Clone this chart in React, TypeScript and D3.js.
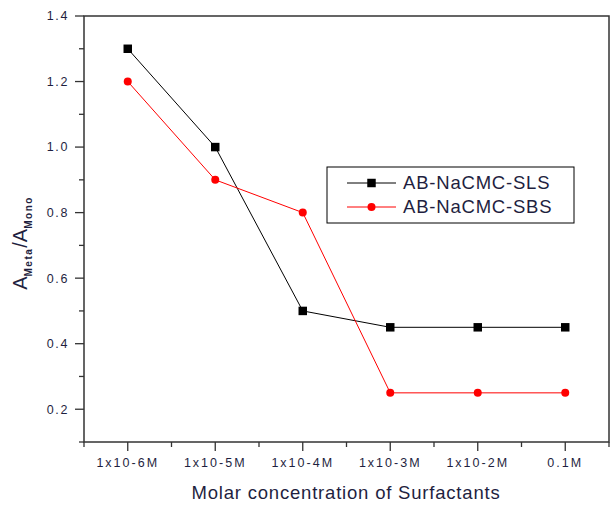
import React from "react";
import * as d3 from "d3";

const categories = ["1x10-6M", "1x10-5M", "1x10-4M", "1x10-3M", "1x10-2M", "0.1M"];
const slsValues = [1.3, 1.0, 0.5, 0.45, 0.45, 0.45];
const sbsValues = [1.2, 0.9, 0.8, 0.25, 0.25, 0.25];
const yTicks = [0.2, 0.4, 0.6, 0.8, 1.0, 1.2, 1.4];
const yMinorTicks = [0.1, 0.3, 0.5, 0.7, 0.9, 1.1, 1.3];
const seriesNames = ["AB-NaCMC-SLS", "AB-NaCMC-SBS"];

const W = 613;
const H = 506;
const left = 84;
const right = 609;
const top = 16;
const bottom = 442;
const font = "Arial, 'Liberation Sans', sans-serif";
const labelColor = "#1f1f3f";

export default function App() {
  const x = d3.scaleLinear().domain([0.5, categories.length + 0.5]).range([left, right]);
  const y = d3.scaleLinear().domain([0.1, 1.4]).range([bottom, top]);
  const line = d3
    .line<number>()
    .x((_, i) => x(i + 1))
    .y((d) => y(d));
  const xMinor = d3.range(0, categories.length + 1).map((i) => i + 0.5);
  const symbol = d3.symbol().type(d3.symbolSquare).size(72)();
  return (
    <svg width={W} height={H} style={{ position: "absolute", left: 0, top: 0 }}>
      <rect x={0} y={0} width={W} height={H} fill="#fff" />
      {/* frame */}
      <rect x={left} y={top} width={right - left} height={bottom - top} fill="none" stroke="#333" strokeWidth={1.5} />
      {/* y ticks */}
      {yTicks.map((t) => (
        <g key={"y" + t}>
          <line x1={left - 9} x2={left} y1={y(t)} y2={y(t)} stroke="#333" strokeWidth={1.3} />
          <text x={69} y={y(t)} dy="0.35em" textAnchor="end" fontFamily={font} fontSize={12.5} letterSpacing={1.6} fill={labelColor}>
            {t.toFixed(1)}
          </text>
        </g>
      ))}
      {yMinorTicks.map((t) => (
        <line key={"ym" + t} x1={left - 5} x2={left} y1={y(t)} y2={y(t)} stroke="#333" strokeWidth={1.3} />
      ))}
      {/* x ticks */}
      {categories.map((c, i) => (
        <g key={c}>
          <line x1={x(i + 1)} x2={x(i + 1)} y1={bottom} y2={bottom + 9} stroke="#333" strokeWidth={1.3} />
          <text x={x(i + 1)} y={467} textAnchor="middle" fontFamily={font} fontSize={12.5} letterSpacing={2} fill={labelColor}>
            {c}
          </text>
        </g>
      ))}
      {xMinor.map((t) => (
        <line key={"xm" + t} x1={x(t)} x2={x(t)} y1={bottom} y2={bottom + 5} stroke="#333" strokeWidth={1.3} />
      ))}
      {/* axis titles */}
      <text x={346} y={499} textAnchor="middle" fontFamily={font} fontSize={18.5} letterSpacing={0.8} fill={labelColor}>
        Molar concentration of Surfactants
      </text>
      <text transform="translate(27,243) rotate(-90)" textAnchor="middle" fontFamily={font} fill={labelColor}>
        <tspan fontSize={20}>A</tspan>
        <tspan fontSize={10} fontWeight="bold" letterSpacing={1.5} dy={5}>Meta</tspan>
        <tspan fontSize={20} dy={-5}>/A</tspan>
        <tspan fontSize={10} fontWeight="bold" letterSpacing={1.5} dy={5}>Mono</tspan>
      </text>
      {/* series */}
      <path d={line(slsValues) || ""} fill="none" stroke="#000" strokeWidth={1} />
      <path d={line(sbsValues) || ""} fill="none" stroke="#ff0000" strokeWidth={1} />
      {slsValues.map((v, i) => (
        <path key={"s" + i} d={symbol} transform={`translate(${x(i + 1)},${y(v)})`} fill="#000" />
      ))}
      {sbsValues.map((v, i) => (
        <circle key={"b" + i} cx={x(i + 1)} cy={y(v)} r={4} fill="#ff0000" />
      ))}
      {/* legend */}
      <rect x={327} y={167} width={247} height={56} fill="#fff" stroke="#000" strokeWidth={1} />
      <line x1={347} x2={396} y1={183} y2={183} stroke="#000" strokeWidth={1} />
      <path d={symbol} transform="translate(371.5,183)" fill="#000" />
      <text x={403} y={183} dy="0.35em" fontFamily={font} fontSize={18.5} letterSpacing={0.8} fill={labelColor}>
        {seriesNames[0]}
      </text>
      <line x1={347} x2={396} y1={207} y2={207} stroke="#ff0000" strokeWidth={1} />
      <circle cx={371.5} cy={207} r={4} fill="#ff0000" />
      <text x={403} y={207} dy="0.35em" fontFamily={font} fontSize={18.5} letterSpacing={0.8} fill={labelColor}>
        {seriesNames[1]}
      </text>
    </svg>
  );
}
